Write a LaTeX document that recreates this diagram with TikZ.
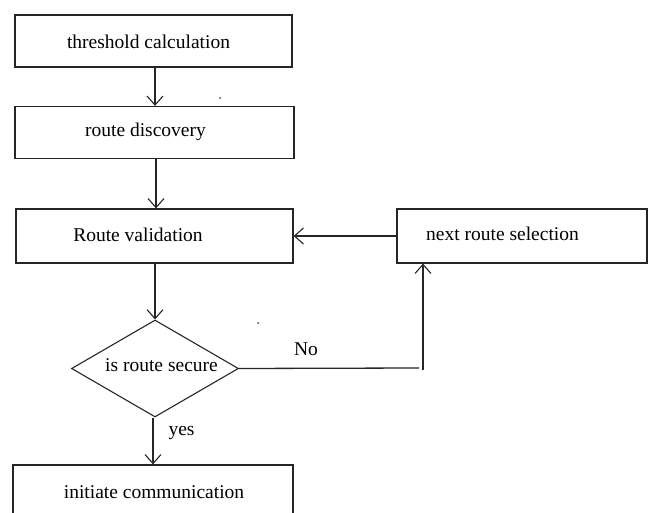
\documentclass[tikz,border=0pt]{standalone}
\usepackage{fontspec}
\setmainfont{Liberation Serif}
\usetikzlibrary{arrows.meta,shapes.geometric,calc}
\begin{document}
\begin{tikzpicture}[x=1pt,y=-1pt,
  every node/.style={font=\fontsize{19.5}{22}\selectfont},
  procbox/.style={draw=black!85,line width=1.3pt,minimum width=277pt,minimum height=52pt,inner sep=0pt},
  decbox/.style={draw=black!85,line width=1.1pt,diamond,minimum width=167pt,minimum height=97pt,inner sep=0pt},
  txt/.style={inner sep=0pt,anchor=center},
  arr/.style={draw=black!85,line width=1.3pt,-{Straight Barb[length=9pt,width=16pt,line width=1.1pt]}},
  ln/.style={draw=black!85,line width=1.3pt}]
\useasboundingbox (0,0) rectangle (648,513);
\fill[white] (0,0) rectangle (648,513);
\node[procbox] (b1) at (153.5,41) {};
\node[procbox,minimum width=279pt] (b2) at (154.5,132.5) {};
\node[procbox,minimum height=54pt] (b3) at (154.5,236) {};
\node[procbox,minimum width=250pt,minimum height=54pt] (b4) at (522,236) {};
\node[decbox] (d) at (155,368.5) {};
\node[procbox,minimum width=280pt,minimum height=80pt] (b5) at (153,505) {};
\node[txt] (t1) at (148.5,42) {threshold calculation};
\node[txt] (t2) at (145.5,132) {route discovery};
\node[txt] (t3) at (138,235) {Route validation};
\node[txt] (t4) at (502.5,234) {next route selection};
\node[txt] (t5) at (161.5,365) {is route secure};
\node[txt] (t6) at (154,492) {initiate communication};
\node[txt] (no) at (306,349) {No};
\node[txt] (yes) at (181.5,433) {yes};
\coordinate (c1) at (419,368);
\coordinate (c2) at (423,370);
\draw[arr] ($(b1.south)+(1.5,0)$) -- ($(b2.north)+(0.5,0)$);
\draw[arr] ($(b2.south)+(1.5,0)$) -- ($(b3.north)+(1.5,0)$);
\draw[arr] ($(b3.south)+(0.5,0)$) -- (d.north);
\draw[arr] ($(d.south)+(-2,0)$) -- ($(b5.north)+(-0.0,0)$);
\draw[ln] (d.east) -- (c1);
\draw[arr] (c2) -- (c2 |- b4.south);
\draw[arr] (b4.west) -- (b3.east);
\fill[black!70] (220,98) circle (1pt) (258,323) circle (1pt);
\end{tikzpicture}
\end{document}
